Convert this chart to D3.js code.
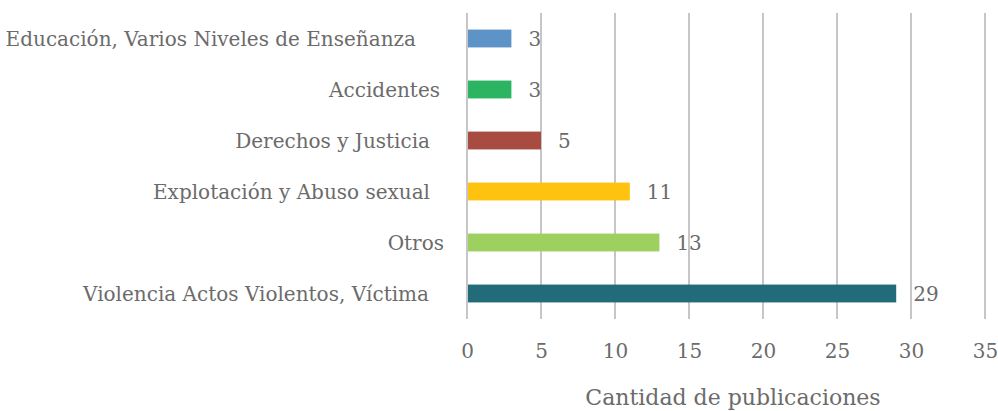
<!DOCTYPE html>
<html>
<head>
<meta charset="utf-8">
<script src="https://cdn.jsdelivr.net/npm/d3@7"></script>
<style>
  body { margin: 0; background: #fff; }
  svg text { font-family: "DejaVu Serif", "Liberation Serif", serif; fill: #6b6b6b; }
</style>
</head>
<body>
<svg id="chart" width="998" height="411"></svg>
<script>
const categories = [
    "Educación, Varios Niveles de Enseñanza",
    "Accidentes",
    "Derechos y Justicia",
    "Explotación y Abuso sexual",
    "Otros",
    "Violencia Actos Violentos, Víctima"
];
const values = [3, 3, 5, 11, 13, 29];
const colors = ["#5e93c8", "#2bb462", "#a84b40", "#ffc20e", "#9ed060", "#226b78"];
const xTicks = [0, 5, 10, 15, 20, 25, 30, 35];
const xTitle = "Cantidad de publicaciones";
// labels in the original are not flush right, some carry trailing spaces
const labelShift = [28, 4, 14, 14, 0, 15];

const svg = d3.select("#chart");
const plotLeft = 467, plotRight = 985, plotTop = 13, plotBottom = 319;

const x = d3.scaleLinear().domain([0, 35]).range([plotLeft, plotRight]);
const y = d3.scaleBand().domain(categories).range([plotTop, plotBottom]).paddingInner(0.65).paddingOuter(0.325);

// vertical gridlines
svg.append("g")
    .selectAll("line")
    .data(xTicks)
    .enter()
    .append("line")
    .attr("x1", d => x(d))
    .attr("x2", d => x(d))
    .attr("y1", plotTop)
    .attr("y2", plotBottom)
    .attr("stroke", "#b3b3b6")
    .attr("stroke-width", 1.5);

// tick labels
const axis = d3.axisBottom(x).tickValues(xTicks).tickSize(0).tickPadding(0);
const gAxis = svg.append("g")
    .attr("transform", `translate(0, ${plotBottom + 25})`)
    .call(axis);
gAxis.select(".domain").remove();
gAxis.selectAll("text")
    .style("font-size", "20px")
    .attr("fill", "#6b6b6b")
    .attr("dy", "0.71em")
    .style("font-family", "'DejaVu Serif', serif");

// bars
svg.append("g")
    .selectAll("rect")
    .data(values)
    .enter()
    .append("rect")
    .attr("x", x(0) + 1)
    .attr("y", (d, i) => y(categories[i]))
    .attr("width", d => x(d) - x(0) - 1)
    .attr("height", y.bandwidth())
    .attr("fill", (d, i) => colors[i]);

// value labels
svg.append("g")
    .selectAll("text")
    .data(values)
    .enter()
    .append("text")
    .attr("x", d => x(d) + 17)
    .attr("y", (d, i) => y(categories[i]) + y.bandwidth() / 2)
    .attr("dy", "0.35em")
    .style("font-size", "20px")
    .text(d => d);

// category labels
svg.append("g")
    .selectAll("text")
    .data(categories)
    .enter()
    .append("text")
    .attr("x", (d, i) => 444 - labelShift[i])
    .attr("y", d => y(d) + y.bandwidth() / 2)
    .attr("dy", "0.35em")
    .attr("text-anchor", "end")
    .style("font-size", "20px")
    .text(d => d);

// axis title
svg.append("text")
    .attr("x", 733)
    .attr("y", 397)
    .attr("dy", "0.35em")
    .attr("text-anchor", "middle")
    .style("font-size", "22px")
    .text(xTitle);
</script>
</body>
</html>
